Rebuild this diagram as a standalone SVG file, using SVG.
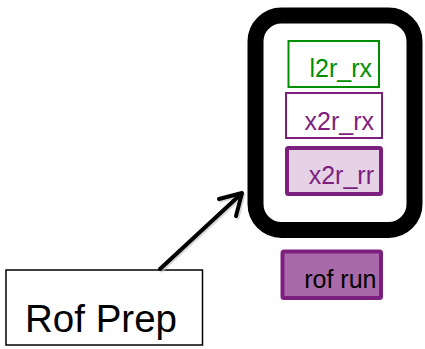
<svg xmlns="http://www.w3.org/2000/svg" width="425" height="349" viewBox="0 0 425 349">
  <style>
    .lbl { font-family: "Liberation Sans", Arial, sans-serif; font-size: 25px; text-anchor: end; }
    .purple { fill: #7d1f7e; }
    .green { fill: #008f00; }
  </style>
  <rect width="425" height="349" fill="#ffffff"/>

  <!-- container -->
  <g id="container">
    <rect x="255.5" y="15.5" width="159" height="214.5" rx="26" ry="26" fill="#ffffff" stroke="#000000" stroke-width="16"/>
  </g>

  <g id="l2r_rx">
    <rect x="288.5" y="41" width="90.5" height="46" fill="#ffffff" stroke="#008f00" stroke-width="2"/>
    <text class="lbl green" x="372" y="77">l2r_rx</text>
  </g>

  <g id="x2r_rx">
    <rect x="286" y="93" width="96" height="45" fill="#ffffff" stroke="#7d1f7e" stroke-width="2"/>
    <text class="lbl purple" x="374" y="129.5">x2r_rx</text>
  </g>

  <g id="x2r_rr">
    <rect x="287" y="148" width="94" height="46" rx="1.5" fill="#e6d2e6" stroke="#7d1f7e" stroke-width="4"/>
    <text class="lbl purple" x="374" y="184">x2r_rr</text>
  </g>

  <g id="rof_run">
    <rect x="282.5" y="251.5" width="98.5" height="46.5" rx="1.5" fill="#a96aa9" stroke="#7d1f7e" stroke-width="4"/>
    <text class="lbl" x="376.5" y="287.5" fill="#000000">rof run</text>
  </g>

  <g id="rof_prep">
    <rect x="6" y="270" width="196.5" height="75" fill="#ffffff" stroke="#000000" stroke-width="1.5"/>
    <text x="101" y="331.5" font-family="'Liberation Sans', Arial, sans-serif" font-size="38.5" text-anchor="middle" fill="#000000">Rof Prep</text>
  </g>

  <!-- connectors -->
  <g id="connectors" fill="none" stroke-width="4" stroke-linecap="round" stroke-linejoin="round">
    <g stroke="#bdbdbd" transform="translate(1.5,1.5)" opacity="0.6">
      <line x1="160" y1="269" x2="241" y2="194"/>
      <polyline points="219,199 242,193 236,216"/>
    </g>
    <g stroke="#000000">
      <line x1="160" y1="269" x2="241" y2="194"/>
      <polyline points="219,199 242,193 236,216"/>
    </g>
  </g>
</svg>
